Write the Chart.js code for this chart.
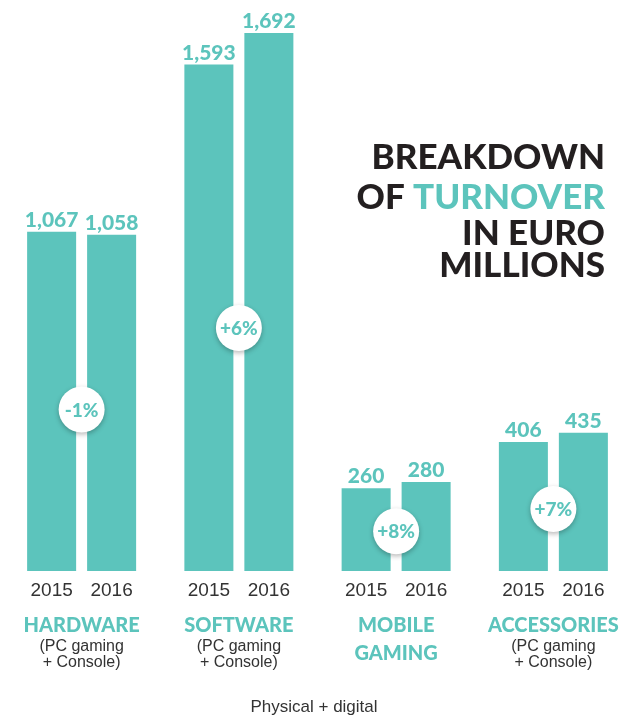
<!DOCTYPE html>
<html>
<head>
<meta charset="utf-8">
<script src="https://cdn.jsdelivr.net/npm/chart.js@4.4.0/dist/chart.umd.min.js"></script>
<style>
  html, body { margin: 0; padding: 0; background: #fff; overflow: hidden; }
  #wrap { position: relative; width: 640px; height: 716px; }
</style>
</head>
<body>
<div id="wrap"><canvas id="myChart" width="640" height="716"></canvas></div>
<script>
var categories = ['HARDWARE', 'SOFTWARE', 'MOBILE\nGAMING', 'ACCESSORIES']
var subLabels = ['(PC gaming\n+ Console)', '(PC gaming\n+ Console)', '', '(PC gaming\n+ Console)']
var years = ['2015', '2016']
var values2015 = [1067, 1593, 260, 406]
var values2016 = [1058, 1692, 280, 435]
var changes = ['-1%', '+6%', '+8%', '+7%']
var titleLines = [['BREAKDOWN'], ['OF ', 'TURNOVER'], ['IN EURO'], ['MILLIONS']]

var teal = 'rgb(92, 196, 188)'
var dark = '#231f20'
var grey = '#333333'
var display = '"Lato", "Inter", sans-serif'
var plain = '"Liberation Sans", Arial, sans-serif'

function fmt(n) {
  return n.toLocaleString('en-US')
}

// labels, percentage badges and the title block
var decorations = {
  id: 'decorations',
  afterDatasetsDraw(chart) {
    var ctx = chart.ctx
    var area = chart.chartArea
    var y = chart.scales.y
    var metas = [chart.getDatasetMeta(0), chart.getDatasetMeta(1)]
    ctx.save()

    // value on top of each bar, year beneath it
    metas.forEach((meta, d) => {
      meta.data.forEach((bar, i) => {
        ctx.fillStyle = teal
        ctx.font = '900 21px ' + display
        ctx.textAlign = 'center'
        ctx.textBaseline = 'alphabetic'
        ctx.fillText(fmt(chart.data.datasets[d].data[i]), bar.x, bar.y - 5)

        ctx.fillStyle = grey
        ctx.font = '19px ' + plain
        ctx.fillText(years[d], bar.x, area.bottom + 25)
      })
    })

    // change badge between the two bars
    categories.forEach((c, i) => {
      var a = metas[0].data[i], b = metas[1].data[i]
      var cx = (a.x + b.x) / 2
      var lo = Math.min(values2015[i], values2016[i])
      var cy = y.getPixelForValue(lo * 0.48)
      ctx.save()
      ctx.shadowColor = 'rgba(0,0,0,0.28)'
      ctx.shadowBlur = 5
      ctx.shadowOffsetY = 2
      ctx.beginPath()
      ctx.arc(cx, cy, 23, 0, Math.PI * 2)
      ctx.fillStyle = '#fff'
      ctx.fill()
      ctx.restore()
      ctx.fillStyle = teal
      ctx.font = '900 19px ' + display
      ctx.textAlign = 'center'
      ctx.textBaseline = 'middle'
      ctx.fillText(changes[i], cx, cy + 1)

      // category name and subtitle
      ctx.textBaseline = 'alphabetic'
      var lines = c.split('\n')
      ctx.font = '900 20px ' + display
      lines.forEach((l, k) => {
        ctx.fillStyle = teal
        ctx.fillText(l, cx, area.bottom + 61 + k * 28)
      })
      if (subLabels[i]) {
        ctx.fillStyle = grey
        ctx.font = '16px ' + plain
        subLabels[i].split('\n').forEach((l, k) => {
          ctx.fillText(l, cx, area.bottom + 80 + k * 16)
        })
      }
    })

    // footer
    ctx.fillStyle = grey
    ctx.font = '17px ' + plain
    ctx.textAlign = 'center'
    ctx.fillText('Physical + digital', 314, 712)

    // title, right aligned
    var baselines = [169, 209, 245, 277]
    ctx.font = '900 35px ' + display
    ctx.textAlign = 'left'
    titleLines.forEach((parts, k) => {
      var total = parts.reduce((s, p) => s + ctx.measureText(p).width, 0)
      var x = 605 - total
      parts.forEach((p, j) => {
        ctx.fillStyle = (k == 1 && j == 1) ? teal : dark
        ctx.fillText(p, x, baselines[k])
        x += ctx.measureText(p).width
      })
    })
    ctx.restore()
  }
}

var ctx = document.getElementById('myChart').getContext('2d')
var chart = new Chart(ctx, {
  type: 'bar',
  data: {
    labels: categories,
    datasets: [{
      label: years[0],
      data: values2015,
      backgroundColor: teal,
      categoryPercentage: 0.763,
      barPercentage: 0.817,
    }, {
      label: years[1],
      data: values2016,
      backgroundColor: teal,
      categoryPercentage: 0.763,
      barPercentage: 0.817,
    }]
  },
  options: {
    responsive: false,
    animation: false,
    events: [],
    layout: { padding: { left: 3, right: 8, top: 0, bottom: 145 } },
    plugins: { legend: { display: false }, tooltip: { enabled: false } },
    scales: {
      x: { display: false },
      y: { display: false, min: 0, max: 1796 }
    }
  },
  plugins: [decorations]
})
</script>
</body>
</html>
